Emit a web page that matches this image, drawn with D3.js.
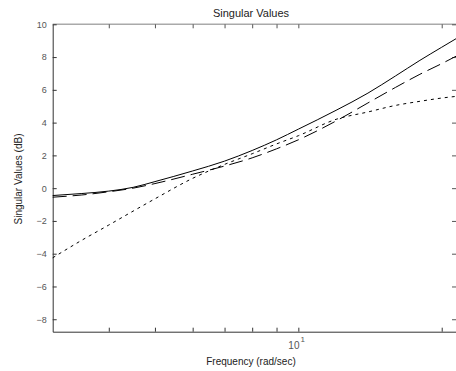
<!DOCTYPE html>
<html>
<head>
<meta charset="utf-8">
<script src="https://cdn.jsdelivr.net/npm/d3@7"></script>
<style>
  body { margin: 0; background: #fff; }
  svg { display: block; font-family: "Liberation Sans", Arial, sans-serif; }
</style>
</head>
<body>
<svg id="chart" width="456" height="371"></svg>
<script>
// frequency grid (rad/sec) and the three singular value curves (dB)
const freq = [3.05, 3.5, 4, 4.5, 5, 6, 7, 8, 9, 10, 12, 14, 16, 18, 20, 21.43];
const svSolid  = [-0.45, -0.33, -0.18, 0.05, 0.4, 1.05, 1.65, 2.3, 2.95, 3.6, 4.75, 5.8, 6.85, 7.8, 8.6, 9.12];
const svDash   = [-0.55, -0.42, -0.22, 0.0, 0.28, 0.85, 1.35, 1.85, 2.4, 2.95, 4.1, 5.2, 6.15, 6.95, 7.6, 8.05];
const svDotted = [-4.25, -3.2, -2.25, -1.4, -0.65, 0.6, 1.45, 2.1, 2.7, 3.2, 4.2, 4.65, 5.05, 5.3, 5.5, 5.6];

const yTicks = [-8, -6, -4, -2, 0, 2, 4, 6, 8, 10];
const xTicks = [4, 5, 6, 7, 8, 9, 10, 20];

const svg = d3.select("#chart");
const mLeft = 52.7, mRight = 456, mTop = 24.3, mBottom = 331.7;

const x = d3.scaleLog().domain([3.05, 21.43]).range([mLeft, mRight]);
const y = d3.scaleLinear().domain([-8.76, 10]).range([mBottom, mTop]);

// frame
svg.append("line")
    .attr("x1", mLeft).attr("x2", mRight).attr("y1", mTop).attr("y2", mTop)
    .attr("stroke", "#aaa").attr("stroke-width", 1.5);

// bottom axis, ticks pointing in
const xAxis = svg.append("g")
    .attr("transform", `translate(0,${mBottom})`)
    .call(d3.axisBottom(x).tickValues(xTicks).tickSize(-4).tickSizeOuter(0).tickFormat(""));
xAxis.select(".domain").attr("stroke", "#333");
xAxis.selectAll(".tick line").attr("stroke", "#333");

// top ticks
svg.append("g")
    .attr("transform", `translate(0,${mTop})`)
    .call(d3.axisTop(x).tickValues(xTicks).tickSize(-4).tickSizeOuter(0).tickFormat(""))
    .call(g => g.select(".domain").remove())
    .selectAll(".tick line").attr("stroke", "#555");

// left axis
const yAxis = svg.append("g")
    .attr("transform", `translate(${mLeft},0)`)
    .call(d3.axisLeft(y).tickValues(yTicks).tickSize(-4).tickSizeOuter(0).tickPadding(6));
yAxis.select(".domain").attr("stroke", "#333");
yAxis.selectAll(".tick line").attr("stroke", "#333");
yAxis.selectAll(".tick text")
    .attr("fill", "#555").attr("font-size", 9)
    .attr("font-family", "'Liberation Sans', Arial, sans-serif");

// right axis ticks
svg.append("g")
    .attr("transform", `translate(${mRight},0)`)
    .call(d3.axisRight(y).tickValues(yTicks).tickSize(-4).tickSizeOuter(0).tickFormat(""))
    .call(g => g.select(".domain").remove())
    .selectAll(".tick line").attr("stroke", "#555");

// 10^1 label
const lab = svg.append("text")
    .attr("x", x(10) - 10).attr("y", 348.5)
    .attr("font-size", 10).attr("fill", "#555")
    .text("10");
lab.append("tspan").attr("dx", 1).attr("dy", -7).attr("font-size", 8).text("1");

// curves
const line = d3.line()
    .x((d, i) => x(freq[i]))
    .y(d => y(d))
    .curve(d3.curveMonotoneX);

const series = [
    { values: svSolid, dash: null },
    { values: svDash, dash: "14,6" },
    { values: svDotted, dash: "3,4" }
];

svg.selectAll(".sv")
    .data(series)
    .enter()
    .append("path")
    .attr("class", "sv")
    .attr("d", d => line(d.values))
    .attr("fill", "none")
    .attr("stroke", "#000")
    .attr("stroke-width", 1)
    .attr("stroke-dasharray", d => d.dash);

// titles
svg.append("text")
    .attr("x", 251).attr("y", 16.5)
    .attr("text-anchor", "middle")
    .attr("font-size", 11).attr("fill", "#222")
    .text("Singular Values");

svg.append("text")
    .attr("x", 251).attr("y", 365)
    .attr("text-anchor", "middle")
    .attr("font-size", 10).attr("fill", "#222")
    .text("Frequency (rad/sec)");

svg.append("text")
    .attr("transform", "translate(22,179) rotate(-90)")
    .attr("text-anchor", "middle")
    .attr("font-size", 10).attr("fill", "#222")
    .text("Singular Values (dB)");
</script>
</body>
</html>
